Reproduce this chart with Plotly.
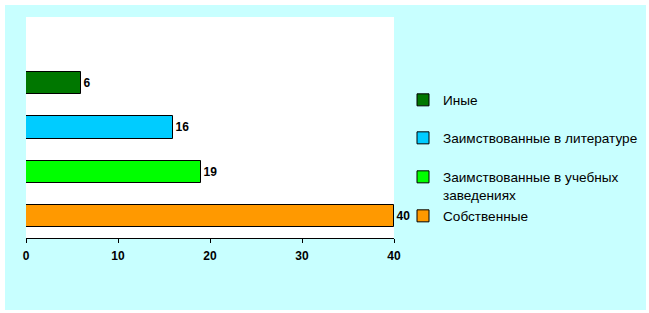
import plotly.graph_objects as go

categories = ["Собственные", "Заимствованные в учебных<br>заведениях", "Заимствованные в литературе", "Иные"]
values = [40, 19, 16, 6]
colors = ["#FF9900", "#00FF00", "#00CCFF", "#007700"]
x_ticks = [0, 10, 20, 30, 40]

W, H = 649, 313
L, R, T, B = 26, 255, 17, 75
pw, ph = W - L - R, H - T - B

def px_x(x):
    return (x - L) / pw

def px_y(y):
    return (H - B - y) / ph

legend_names = ["legend4", "legend3", "legend2", "legend"]
legend_y = [216, 186, 138, 100]

fig = go.Figure()
for i, (cat, val, col) in enumerate(zip(categories, values, colors)):
    fig.add_trace(go.Bar(
        y=[i], x=[val], orientation="h", name=cat,
        marker=dict(color=col, line=dict(color="black", width=1)),
        width=0.5,
        text=[str(val)], textposition="outside", cliponaxis=False,
        textfont=dict(family="Liberation Sans", size=12, color="black", weight="bold"),
        legend=legend_names[i],
    ))

layout_legends = {}
for i, ln in enumerate(legend_names):
    layout_legends[ln] = dict(
        xref="container", yref="container",
        x=403 / W, y=1 - legend_y[i] / H, xanchor="left", yanchor="middle",
        bgcolor="rgba(0,0,0,0)", borderwidth=0,
        font=dict(family="Liberation Sans", size=13.6, color="black"),
        valign="top", itemwidth=30,
    )

fig.update_layout(
    width=W, height=H,
    margin=dict(l=L, r=R, t=T, b=B, pad=0, autoexpand=False),
    paper_bgcolor="white", plot_bgcolor="white",
    barmode="overlay", bargap=0,
    showlegend=True,
    xaxis=dict(range=[0, 40], tickvals=x_ticks, ticks="outside", ticklen=4,
               tickcolor="black", showline=True, linecolor="black", linewidth=1,
               showgrid=False, zeroline=False, ticklabelstandoff=3,
               tickfont=dict(family="Liberation Sans", size=12, color="black", weight="bold")),
    yaxis=dict(range=[-0.5, 4.5], showticklabels=False, showgrid=False,
               zeroline=False, showline=False, ticks=""),
    shapes=[
        dict(type="rect", xref="paper", yref="paper", layer="below",
             x0=px_x(5), x1=px_x(646), y0=px_y(310), y1=px_y(5),
             fillcolor="#C8FFFF", line=dict(width=0)),
        dict(type="rect", xref="paper", yref="paper", layer="below",
             x0=0, x1=1, y0=0, y1=1,
             fillcolor="white", line=dict(width=0)),
    ],
    **layout_legends,
)

fig.write_html("out.html")
